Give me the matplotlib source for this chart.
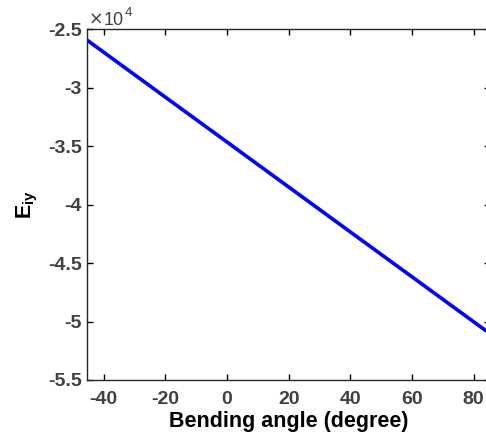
import matplotlib
matplotlib.use("Agg")
import matplotlib.pyplot as plt

# bending angle (degree) and E_iy
angle = [-45, -20, 0, 20, 40, 60, 85]
e_iy = [-25980, -30790, -34630, -38480, -42330, -46170, -50980]

x_ticks = [-40, -20, 0, 20, 40, 60, 80]
y_ticks = [-55000, -50000, -45000, -40000, -35000, -30000, -25000]
y_tick_labels = ["-5.5", "-5", "-4.5", "-4", "-3.5", "-3", "-2.5"]

plt.rcParams["font.family"] = ["Liberation Sans", "DejaVu Sans"]
plt.rcParams["font.weight"] = "bold"
plt.rcParams["axes.unicode_minus"] = False
plt.rcParams["mathtext.fontset"] = "custom"
plt.rcParams["mathtext.bf"] = "Liberation Sans:bold"
plt.rcParams["mathtext.rm"] = "Liberation Sans"

fig = plt.figure(figsize=(4.86, 4.38), dpi=100)
# axes run a little past the right edge of the picture, as in the reference
ax = fig.add_axes([87.3 / 486, 1 - 380 / 438, (490 - 87.3) / 486, (380 - 29.5) / 438])

ax.plot(angle, e_iy, color="#0000ff", linewidth=2.6)

ax.set_xlim(-45.3, 85.3)
ax.set_ylim(-55000, -25000)
ax.set_xticks(x_ticks)
ax.set_yticks(y_ticks)
ax.set_yticklabels(y_tick_labels)

ax.tick_params(direction="in", length=4, width=1, top=True, right=True,
               labelsize=14, labelcolor="#404040")
ax.tick_params(axis="y", pad=4)
ax.tick_params(axis="x", pad=8)
for lab in ax.get_xticklabels() + ax.get_yticklabels():
    lab.set_fontweight("bold")
for sp in ax.spines.values():
    sp.set_linewidth(1)
    sp.set_color("#262626")

ax.set_xlabel("Bending angle (degree)", fontsize=15.5, fontweight="bold", labelpad=2)
ax.set_ylabel(r"E$_{\mathbf{iy}}$", fontsize=15.5, fontweight="bold", labelpad=6)

# exponent label at top left
fig.text(96 / 486, 1 - 25 / 438, "\u00d7", fontsize=12.5, color="#404040",
         ha="center", va="baseline", fontweight="normal", family="DejaVu Sans")
fig.text(103.5 / 486, 1 - 25 / 438, "10", fontsize=13, color="#404040",
         ha="left", va="baseline", fontweight="normal")
fig.text(124.5 / 486, 1 - 15.5 / 438, "4", fontsize=9.7, color="#404040",
         ha="left", va="baseline", fontweight="normal")

fig.savefig("out.png", dpi=100)
